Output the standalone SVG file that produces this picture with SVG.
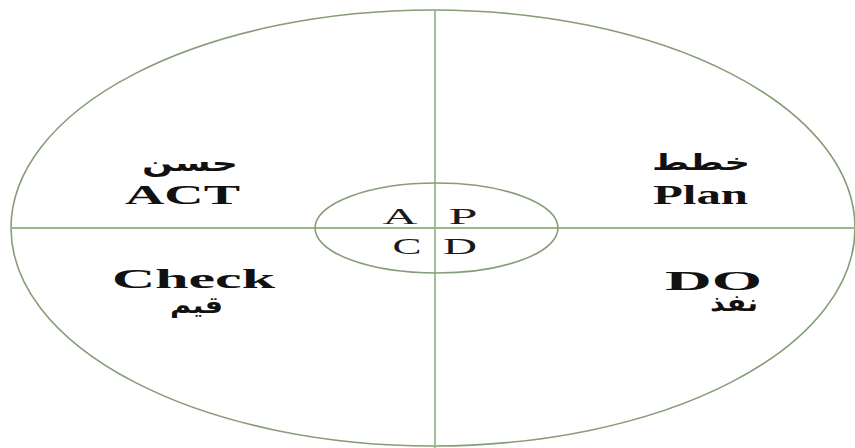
<svg xmlns="http://www.w3.org/2000/svg" width="855" height="448" viewBox="0 0 855 448">
<style>
.ring{fill:none;stroke:#869d78;stroke-width:1.6}
.axis{stroke:#9ab78a;stroke-width:1.8}
.lbl{font-family:"Liberation Serif","Times New Roman",serif;font-weight:bold;font-size:27px;fill:#111}
.ar{font-family:"DejaVu Sans",sans-serif;font-weight:bold;font-size:23px;fill:#111}
.ctr{font-family:"Liberation Serif","Times New Roman",serif;font-size:24px;fill:#1a1a1a}
</style>
<rect width="855" height="448" fill="#ffffff"/>
<g id="outer"><ellipse class="ring" cx="433" cy="228" rx="422" ry="218"/></g>
<g id="connectors">
<line class="axis" x1="435" y1="10" x2="435" y2="448"/>
<line class="axis" x1="11" y1="228" x2="855" y2="228"/>
</g>
<g id="inner"><ellipse class="ring" cx="436.5" cy="228" rx="121.5" ry="45"/>
<text class="ctr" x="400" y="224" text-anchor="middle" textLength="35" lengthAdjust="spacingAndGlyphs">A</text>
<text class="ctr" x="463" y="224" text-anchor="middle" textLength="29" lengthAdjust="spacingAndGlyphs">P</text>
<text class="ctr" x="407" y="254" text-anchor="middle" textLength="29" lengthAdjust="spacingAndGlyphs">C</text>
<text class="ctr" x="460" y="254" text-anchor="middle" textLength="34" lengthAdjust="spacingAndGlyphs">D</text>
</g>
<g id="act">
<text class="ar" x="190" y="171" text-anchor="middle" textLength="96" lengthAdjust="spacingAndGlyphs">حسن</text>
<text class="lbl" x="182.5" y="204" text-anchor="middle" textLength="115" lengthAdjust="spacingAndGlyphs">ACT</text>
</g>
<g id="plan">
<text class="ar" x="701" y="170" text-anchor="middle" textLength="98" lengthAdjust="spacingAndGlyphs">خطط</text>
<text class="lbl" x="700.5" y="204" text-anchor="middle" textLength="95" lengthAdjust="spacingAndGlyphs">Plan</text>
</g>
<g id="check">
<text class="lbl" x="193.5" y="288" text-anchor="middle" textLength="163" lengthAdjust="spacingAndGlyphs">Check</text>
<text class="ar" x="196.5" y="313" text-anchor="middle" textLength="53" lengthAdjust="spacingAndGlyphs">قيم</text>
</g>
<g id="do">
<text class="lbl" x="713.5" y="290" text-anchor="middle" textLength="97" lengthAdjust="spacingAndGlyphs">DO</text>
<text class="ar" x="734" y="311" text-anchor="middle" textLength="48" lengthAdjust="spacingAndGlyphs">نفذ</text>
</g>
</svg>
